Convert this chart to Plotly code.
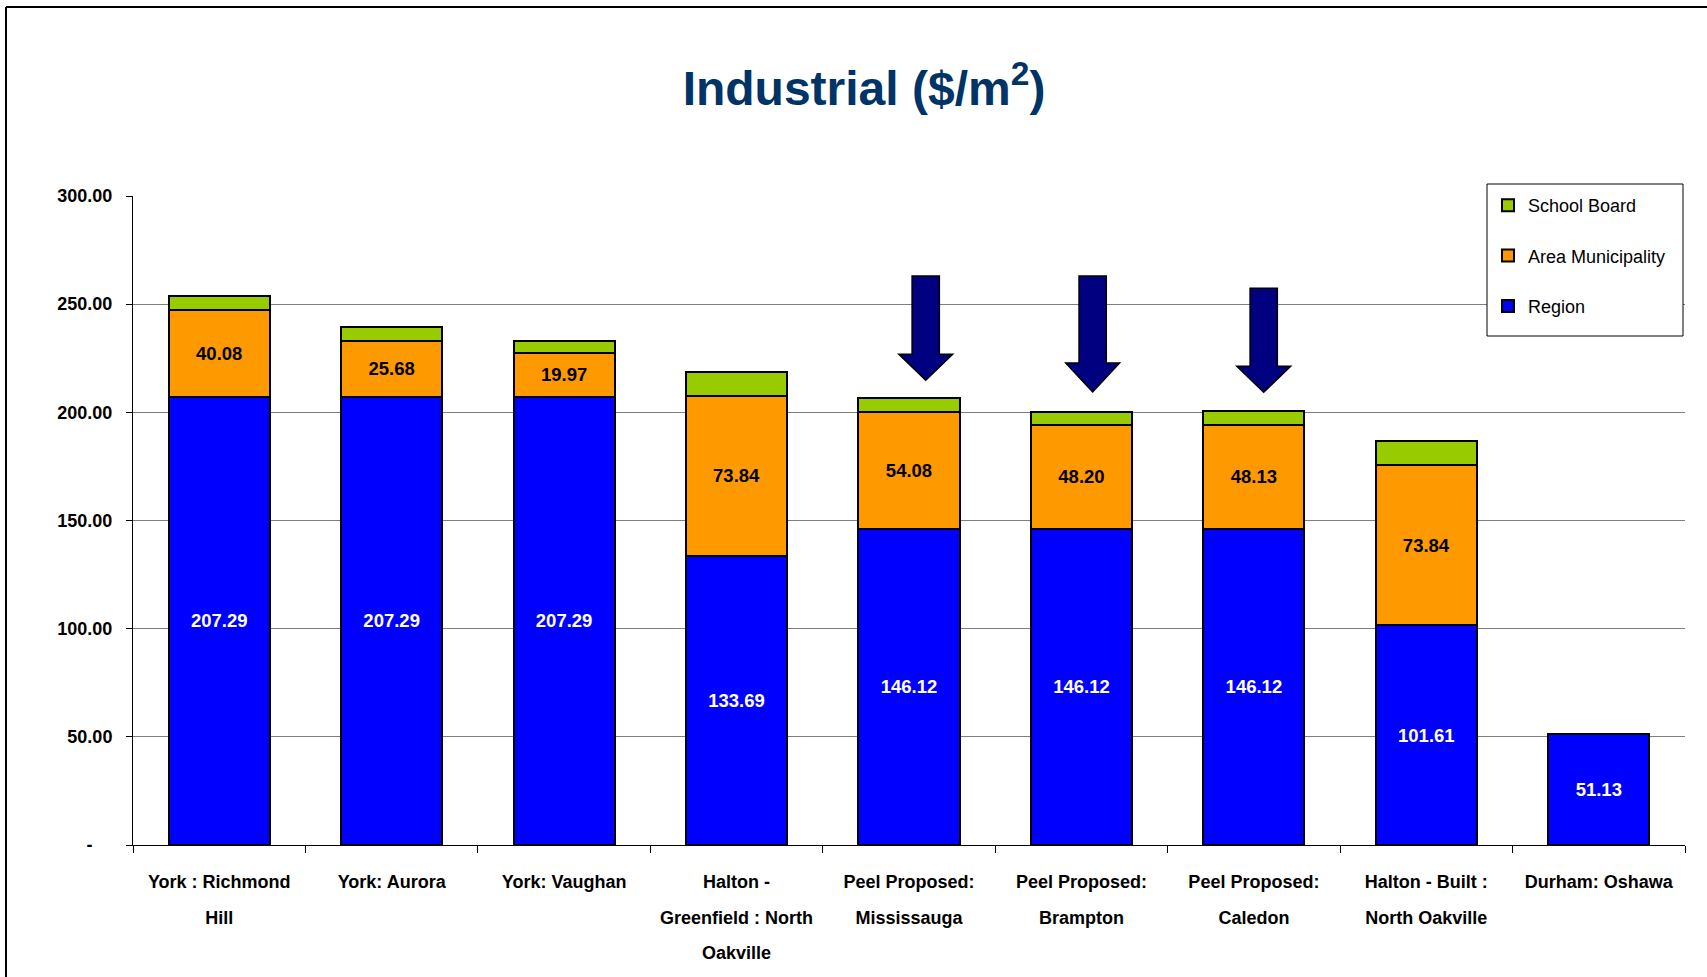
import plotly.graph_objects as go

# ---------------- data ----------------
categories = ["York : Richmond Hill", "York: Aurora", "York: Vaughan",
              "Halton - Greenfield : North Oakville", "Peel Proposed: Mississauga",
              "Peel Proposed: Brampton", "Peel Proposed: Caledon",
              "Halton - Built : North Oakville", "Durham: Oshawa"]
category_labels = ["York : Richmond<br>Hill", "York: Aurora", "York: Vaughan",
                   "Halton -<br>Greenfield : North<br>Oakville", "Peel Proposed:<br>Mississauga",
                   "Peel Proposed:<br>Brampton", "Peel Proposed:<br>Caledon",
                   "Halton - Built :<br>North Oakville", "Durham: Oshawa"]
region = [207.29, 207.29, 207.29, 133.69, 146.12, 146.12, 146.12, 101.61, 51.13]
area_municipality = [40.08, 25.68, 19.97, 73.84, 54.08, 48.20, 48.13, 73.84, None]
school_board = [6.5, 6.5, 5.8, 11.3, 6.3, 5.8, 6.5, 11.3, None]

y_tick_values = [0, 50, 100, 150, 200, 250, 300]
y_tick_labels = ["-\u00a0\u00a0\u00a0\u00a0", "50.00", "100.00", "150.00", "200.00", "250.00", "300.00"]

# highlight arrows: (category index position, top value, head base value, tip value)
arrows = [(4.097, 263.0, 226.9, 214.8),
          (5.065, 263.0, 222.8, 209.4),
          (6.057, 257.3, 221.3, 209.3)]

# ---------------- style ----------------
W, H = 1707, 977
ML, MR, MT, MB = 133, 22, 196, 132
FONT = "Liberation Sans, Arial, sans-serif"
BLUE, ORANGE, GREEN = "#0000FF", "#FF9900", "#99CC00"

def px_x(p):
    return (p - ML) / (W - ML - MR)

def px_y(p):
    return (H - MB - p) / (H - MT - MB)

fig = go.Figure()
fig.add_trace(go.Bar(
    name="Region", x=categories, y=region,
    marker=dict(color=BLUE, line=dict(color="black", width=2)),
    texttemplate="%{y:.2f}", textposition="inside", insidetextanchor="middle",
    textangle=0, constraintext="none",
    textfont=dict(family=FONT, size=18.5, color="white", weight="bold"),
    legendgroup="r", legendrank=3, hoverinfo="x+y"))
fig.add_trace(go.Bar(
    name="Area Municipality", x=categories, y=area_municipality,
    marker=dict(color=ORANGE, line=dict(color="black", width=2)),
    texttemplate="%{y:.2f}", textposition="inside", insidetextanchor="middle",
    textangle=0, constraintext="none",
    textfont=dict(family=FONT, size=18.5, color="black", weight="bold"),
    legendgroup="a", legendrank=2, hoverinfo="x+y"))
fig.add_trace(go.Bar(
    name="School Board", x=categories, y=school_board,
    marker=dict(color=GREEN, line=dict(color="black", width=2)),
    textposition="none",
    legendgroup="s", legendrank=1, hoverinfo="x+y"))

shapes = []
for (cx, top, base, tip) in arrows:
    sw, hw = 0.079, 0.156
    path = (f"M {cx-sw},{top} L {cx+sw},{top} L {cx+sw},{base} L {cx+hw},{base} "
            f"L {cx},{tip} L {cx-hw},{base} L {cx-sw},{base} Z")
    shapes.append(dict(type="path", xref="x", yref="y", path=path,
                       fillcolor="#000080", line=dict(color="black", width=1.5), layer="above"))

# legend frame box
shapes.append(dict(type="rect", xref="paper", yref="paper",
                   x0=px_x(1487), x1=px_x(1683), y0=px_y(336), y1=px_y(184),
                   fillcolor="white", line=dict(color="black", width=1), layer="above"))

# page frame (left and top border lines)
shapes.append(dict(type="line", xref="paper", yref="paper",
                   x0=px_x(6), x1=px_x(6), y0=px_y(7), y1=px_y(H + 5),
                   line=dict(color="black", width=2)))
shapes.append(dict(type="line", xref="paper", yref="paper",
                   x0=px_x(6), x1=px_x(W + 5), y0=px_y(7), y1=px_y(7),
                   line=dict(color="black", width=2)))

fig.update_layout(
    width=W, height=H,
    margin=dict(l=ML, r=MR, t=MT, b=MB, autoexpand=False),
    barmode="stack", bargap=0.414,
    paper_bgcolor="white", plot_bgcolor="white",
    title=dict(text="Industrial ($/m<sup>2</sup>)", xref="container", x=864 / W, xanchor="center",
               y=1 - 88 / H, yanchor="middle",
               font=dict(family=FONT, size=48, color="#003366", weight="bold")),
    showlegend=True,
    legend=dict(x=px_x(1488), y=px_y(187), xanchor="left", yanchor="top",
                traceorder="grouped", tracegroupgap=24,
                bgcolor="rgba(0,0,0,0)", borderwidth=0,
                font=dict(family=FONT, size=18, color="black"),
                itemclick=False),
    shapes=shapes,
    xaxis=dict(type="category", tickmode="array", tickvals=categories,
               ticktext=[f"<span style='font-size:18px'>{t}</span>" for t in category_labels],
               tickfont=dict(family=FONT, size=27, color="black", weight="bold"),
               tickangle=0, ticklabelstandoff=10,
               showline=True, linecolor="black", linewidth=1,
               ticks="outside", tickson="boundaries", ticklen=7, tickcolor="black",
               showgrid=False, range=[-0.5, 8.5], fixedrange=True),
    yaxis=dict(range=[0, 300], tickmode="array", tickvals=y_tick_values, ticktext=y_tick_labels,
               tickfont=dict(family=FONT, size=18, color="black", weight="bold"),
               ticklabelstandoff=10,
               showline=True, linecolor="black", linewidth=1,
               ticks="outside", ticklen=6, tickcolor="black",
               showgrid=True, gridcolor="#7f7f7f", gridwidth=1,
               zeroline=False, fixedrange=True),
)

fig.write_html("out.html")
